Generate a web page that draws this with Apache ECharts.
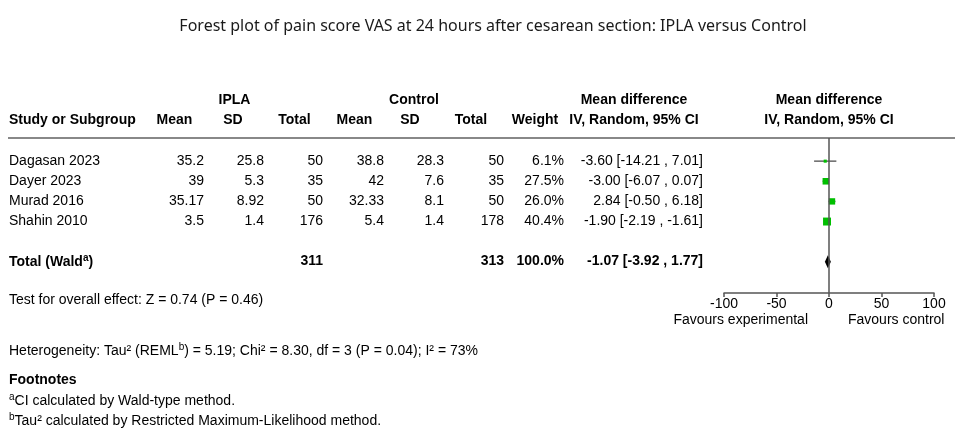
<!DOCTYPE html>
<html>
<head>
<meta charset="utf-8">
<script src="https://cdn.jsdelivr.net/npm/echarts@6/dist/echarts.min.js"></script>
<style>
  html,body{margin:0;padding:0;background:#fff}
  #main{width:955px;height:433px}
</style>
</head>
<body>
<div id="main"></div>
<script>
// study data
const studies = ['Dagasan 2023', 'Dayer 2023', 'Murad 2016', 'Shahin 2010']
const iplaMean = [35.2, 39, 35.17, 3.5]
const iplaSD = [25.8, 5.3, 8.92, 1.4]
const iplaN = [50, 35, 50, 176]
const ctrlMean = [38.8, 42, 32.33, 5.4]
const ctrlSD = [28.3, 7.6, 8.1, 1.4]
const ctrlN = [50, 35, 50, 178]
const weight = [6.1, 27.5, 26.0, 40.4]
const md = [-3.60, -3.00, 2.84, -1.90]
const ciLow = [-14.21, -6.07, -0.50, -2.19]
const ciHigh = [7.01, 0.07, 6.18, -1.61]
// pooled result
const totalN = [311, 313]
const totalWeight = 100.0
const totalMd = -1.07
const totalLow = -3.92
const totalHigh = 1.77
const xTicks = [-100, -50, 0, 50, 100]

const FONT = '"Liberation Sans", Arial, sans-serif'
const TOTAL_ROW = 5
// row index -> pixel (same mapping the y axis uses: top 138, 20px per row)
const rowY = r => 138 + (r + 1.15) * 20

const fmtCI = (m, l, h) => m.toFixed(2) + ' [' + l.toFixed(2) + ' , ' + h.toFixed(2) + ']'

let texts = []
function txt(x, y, s, align, bold, size) {
  texts.push({
    type: 'text', x: x, y: y,
    style: {
      text: s, align: align || 'left', verticalAlign: 'middle',
      font: (bold ? 'bold ' : '') + (size || 14) + 'px ' + FONT, fill: '#000'
    }
  })
}
function richTxt(x, y, s, bold) {
  texts.push({
    type: 'text', x: x, y: y,
    style: {
      text: s, align: 'left', verticalAlign: 'middle', fill: '#000',
      rich: {
        n: { fontSize: 14, fontFamily: FONT, fontWeight: bold ? 'bold' : 'normal', lineHeight: 16, verticalAlign: 'bottom' },
        s: { fontSize: 10, fontFamily: FONT, fontWeight: bold ? 'bold' : 'normal', lineHeight: 16, verticalAlign: 'top', padding: [0, 0, 4, 0] }
      }
    }
  })
}

// headers
txt(234.5, 100, 'IPLA', 'center', true)
txt(414, 100, 'Control', 'center', true)
txt(634, 100, 'Mean difference', 'center', true)
txt(829, 100, 'Mean difference', 'center', true)
txt(9, 120, 'Study or Subgroup', 'left', true)
txt(174.5, 120, 'Mean', 'center', true)
txt(233, 120, 'SD', 'center', true)
txt(294.5, 120, 'Total', 'center', true)
txt(354.5, 120, 'Mean', 'center', true)
txt(410, 120, 'SD', 'center', true)
txt(471, 120, 'Total', 'center', true)
txt(535, 120, 'Weight', 'center', true)
txt(634, 120, 'IV, Random, 95% CI', 'center', true)
txt(829, 120, 'IV, Random, 95% CI', 'center', true)

// rows
studies.forEach((s, i) => {
  const y = rowY(i)
  txt(9, y, s)
  txt(204, y, String(iplaMean[i]), 'right')
  txt(264, y, String(iplaSD[i]), 'right')
  txt(323, y, String(iplaN[i]), 'right')
  txt(384, y, String(ctrlMean[i]), 'right')
  txt(444, y, String(ctrlSD[i]), 'right')
  txt(504, y, String(ctrlN[i]), 'right')
  txt(564, y, weight[i].toFixed(1) + '%', 'right')
  txt(703, y, fmtCI(md[i], ciLow[i], ciHigh[i]), 'right')
})
const ty = rowY(TOTAL_ROW)
richTxt(9, ty, '{n|Total (Wald}{s|a}{n|)}', true)
txt(323, ty, String(totalN[0]), 'right', true)
txt(504, ty, String(totalN[1]), 'right', true)
txt(564, ty, totalWeight.toFixed(1) + '%', 'right', true)
txt(703, ty, fmtCI(totalMd, totalLow, totalHigh), 'right', true)

// bottom notes
txt(9, 300, 'Test for overall effect: Z = 0.74 (P = 0.46)')
richTxt(9, 350, '{n|Heterogeneity: Tau² (REML}{s|b}{n|) = 5.19; Chi² = 8.30, df = 3 (P = 0.04); I² = 73%}')
txt(9, 380, 'Footnotes', 'left', true)
richTxt(9, 400, '{s|a}{n|CI calculated by Wald-type method.}')
richTxt(9, 420, '{s|b}{n|Tau² calculated by Restricted Maximum-Likelihood method.}')

// favours labels
txt(808, 320, 'Favours experimental', 'right')
txt(848, 320, 'Favours control', 'left')

// header rule
texts.push({
  type: 'line', shape: { x1: 8, y1: 138, x2: 955, y2: 138 },
  style: { stroke: '#888', lineWidth: 2 }
})

const chart = echarts.init(document.getElementById('main'))
chart.setOption({
  animation: false,
  title: {
    text: 'Forest plot of pain score VAS at 24 hours after cesarean section: IPLA versus Control',
    left: 488, top: 13, textAlign: 'center',
    textStyle: { fontFamily: '"Noto Sans", sans-serif', fontWeight: 'normal', fontSize: 16, color: '#1a1a1a' }
  },
  grid: { left: 724, right: 21, top: 138, bottom: 140 },
  xAxis: {
    type: 'value', min: -100, max: 100, interval: 50,
    axisLine: { onZero: false, lineStyle: { color: '#555', width: 1.5 } },
    axisTick: { length: 4, lineStyle: { color: '#555', width: 1.5 } },
    axisLabel: { margin: 4, color: '#000', fontSize: 14, fontFamily: FONT,
      customValues: xTicks },
    splitLine: { show: false }
  },
  yAxis: { type: 'value', min: -1.15, max: 6.55, inverse: true, show: false },
  graphic: { elements: texts },
  series: [
    {
      type: 'scatter', data: [], z: 1,
      markLine: {
        silent: true, symbol: 'none', label: { show: false },
        lineStyle: { color: '#555', width: 1.5, type: 'solid' },
        data: [{ xAxis: 0 }]
      }
    },
    {
      type: 'custom', z: 3,
      data: studies.map((s, i) => [i, md[i], ciLow[i], ciHigh[i], weight[i]]),
      renderItem: function (params, api) {
        const r = api.value(0)
        const c = api.coord([api.value(1), r])
        const l = api.coord([api.value(2), r])
        const h = api.coord([api.value(3), r])
        const s = 1.25 * Math.sqrt(api.value(4))
        return {
          type: 'group', children: [
            { type: 'line', shape: { x1: l[0], y1: l[1], x2: h[0], y2: h[1] }, style: { stroke: '#666', lineWidth: 1.5 } },
            { type: 'rect', shape: { x: c[0] - s / 2, y: c[1] - s / 2, width: s, height: s }, style: { fill: '#00bf00' } }
          ]
        }
      }
    },
    {
      type: 'custom', z: 3,
      data: [[TOTAL_ROW, totalMd, totalLow, totalHigh]],
      renderItem: function (params, api) {
        const r = api.value(0)
        const c = api.coord([api.value(1), r])
        const l = api.coord([api.value(2), r])
        const h = api.coord([api.value(3), r])
        return {
          type: 'polygon',
          shape: { points: [[l[0], l[1]], [c[0], c[1] - 6.5], [h[0], h[1]], [c[0], c[1] + 6.5]] },
          style: { fill: '#000' }
        }
      }
    }
  ]
})
</script>
</body>
</html>
